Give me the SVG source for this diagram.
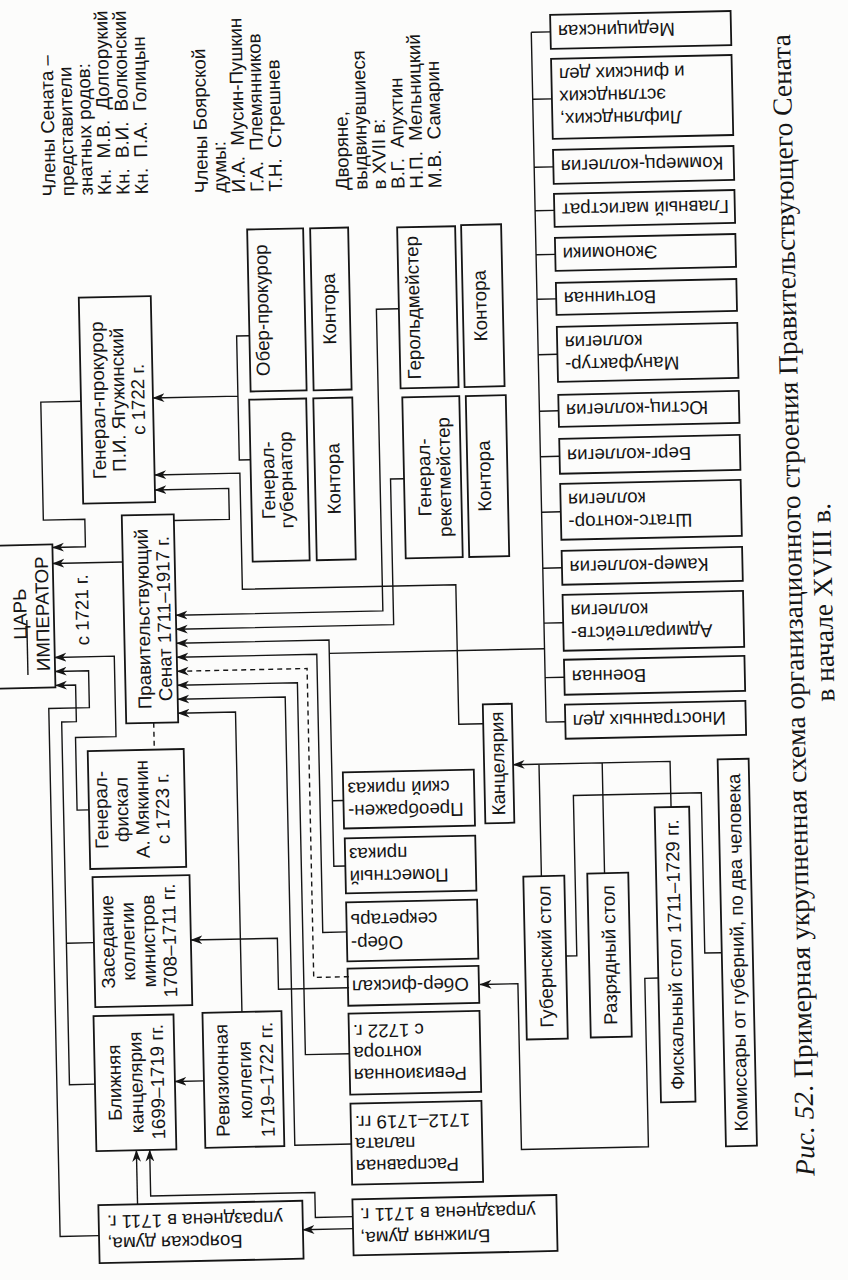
<svg xmlns="http://www.w3.org/2000/svg" width="848" height="1280" viewBox="0 0 848 1280">
<style>
.t{font-family:"Liberation Sans",Arial,sans-serif;font-size:18.7px;fill:#151515}
.m{text-anchor:middle}.e{text-anchor:end}.s{text-anchor:start}
.cap{font-family:"Liberation Serif","Times New Roman",serif;font-size:27.5px;fill:#151515;text-anchor:middle}
.b{fill:none;stroke:#151515;stroke-width:1.8}
.c{fill:none;stroke:#151515;stroke-width:1.4}
.ar{marker-end:url(#a)}
.d{stroke-dasharray:5 4}
</style>
<defs>
<marker id="a" viewBox="0 0 12 10" refX="11.5" refY="5" markerWidth="12" markerHeight="10" markerUnits="userSpaceOnUse" orient="auto"><path d="M12,5 L0,0.6 L3.5,5 L0,9.4 Z" fill="#151515"/></marker>
</defs>
<rect width="848" height="1280" fill="#fcfcfb"/>
<g transform="rotate(-1.23 424 640)">

<g id="notes">
<text class="t s" transform="translate(58.7,188.5) rotate(-90)" dy="0.35em">Члены Сената –</text>
<text class="t s" transform="translate(77.2,188.5) rotate(-90)" dy="0.35em">представители</text>
<text class="t s" transform="translate(95.7,188.5) rotate(-90)" dy="0.35em">знатных родов:</text>
<text class="t s" xml:space="preserve" transform="translate(114.2,188.5) rotate(-90)" dy="0.35em">Кн.  М.В.  Долгорукий</text>
<text class="t s" xml:space="preserve" transform="translate(132.7,188.5) rotate(-90)" dy="0.35em">Кн.  В.И.  Волконский</text>
<text class="t s" xml:space="preserve" transform="translate(151.2,188.5) rotate(-90)" dy="0.35em">Кн.  П.А.  Голицын</text>
<text class="t s" transform="translate(211.2,188.5) rotate(-90)" dy="0.35em">Члены Боярской</text>
<text class="t s" transform="translate(229.7,188.5) rotate(-90)" dy="0.35em">думы:</text>
<text class="t s" xml:space="preserve" transform="translate(248.2,188.5) rotate(-90)" dy="0.35em">И.А.  Мусин-Пушкин</text>
<text class="t s" xml:space="preserve" transform="translate(266.7,188.5) rotate(-90)" dy="0.35em">Г.А.  Племянников</text>
<text class="t s" xml:space="preserve" transform="translate(285.2,188.5) rotate(-90)" dy="0.35em">Т.Н.  Стрешнев</text>
<text class="t s" transform="translate(352.2,188.5) rotate(-90)" dy="0.35em">Дворяне,</text>
<text class="t s" transform="translate(370.7,188.5) rotate(-90)" dy="0.35em">выдвинувшиеся</text>
<text class="t s" transform="translate(389.2,188.5) rotate(-90)" dy="0.35em">в XVII в:</text>
<text class="t s" xml:space="preserve" transform="translate(407.7,188.5) rotate(-90)" dy="0.35em">В.Г.  Апухтин</text>
<text class="t s" xml:space="preserve" transform="translate(426.2,188.5) rotate(-90)" dy="0.35em">Н.П.  Мельницкий</text>
<text class="t s" xml:space="preserve" transform="translate(444.7,188.5) rotate(-90)" dy="0.35em">М.В.  Самарин</text>
</g>

<g id="connectors">
<path class="c ar" d="M86.2,394 H46 V512 H87.5 V539.5 H54.5"/>
<path class="c ar" d="M124.5,555.5 H54.5"/>
<path class="c ar" d="M85.4,802.6 H73.5 V730 H114 V649.5 H54.5"/>
<path class="c ar" d="M86.3,1228.5 H47.4 V700.4 H88 V663.5 H54.5"/>
<path class="c ar" d="M87.5,935.5 H60 M85.5,1077 H60 V714.2 H74.7 V677.5 H54.5"/>
<path class="c ar" d="M256,332 H243.2 V456 H254.4 M243.2,392.2 H158.2"/>
<path class="c ar" d="M481.4,725 H457 V585.4 H243.5 V469.2 H158.2"/>
<path class="c ar" d="M176.5,515.2 H232 V484.2 H158.2"/>
<path class="c ar" d="M406,308.3 H383.5 V610 H176.5"/>
<path class="c ar" d="M407.5,478.3 H394 V624 H176.5"/>
<path class="c ar" d="M544.3,651.3 H329 M340,798.7 H329 M340.2,864.2 H329 V638 H176.5"/>
<path class="c ar" d="M340.8,930.2 H316.5 V652 H176.5"/>
<path class="c ar d" d="M341.6,975 H306.5 V666 H176.5"/>
<path class="c ar" d="M341,1052 H296.5 V680 H176.5"/>
<path class="c ar" d="M341.2,1142.3 H284 V694 H176.5"/>
<path class="c ar" d="M234,1008 V708 H176.5"/>
<path class="c d" d="M152,717 V743.8"/>
<path class="c ar" d="M341.6,986 H271 V935 H184.5"/>
<path class="c ar" d="M651,983 H637.5 V1151.4 H510.5 V985.6 H472.6"/>
<path class="c ar" d="M536.3,878.6 V766.6 M599.5,877 V766.6 M667.4,812.4 V766.6 H510.4"/>
<path class="c" d="M559.2,959 H570 V798.6 H698 V959 H715"/>
<path class="c ar" d="M194.5,1076 H165.5"/>
<path class="c ar" d="M125.5,1198 V1144"/>
<path class="c ar" d="M340.4,1215 H303 V1190 H138.8 V1144"/>
<path class="c ar" d="M340.4,1227 H290.3"/>
<path class="c" d="M544.3,34.75 V724.75 M544.3,34.75 H563.5 M544.3,101.75 H563.5 M544.3,169.75 H563.5 M544.3,213.25 H563.5 M544.3,257.25 H563.5 M544.3,301.75 H563.5 M544.3,357.25 H563.5 M544.3,413.75 H563.5 M544.3,459.25 H563.5 M544.3,514.75 H563.5 M544.3,570.75 H563.5 M544.3,625.75 H563.5 M544.3,680.25 H563.5 M544.3,724.75 H563.5"/>
</g>

<g id="tsar">
<rect class="b" x="-20" y="536.5" width="74.5" height="143"/>
<text class="t m" transform="translate(20.5,605.5) rotate(-90)" dy="0.35em">ЦАРЬ</text>
<line class="c" x1="27.3" y1="611.5" x2="27.3" y2="666.5"/>
<text class="t m" transform="translate(43,605.5) rotate(-90)" dy="0.35em">ИМПЕРАТОР</text>
<text class="t m" transform="translate(82.6,602.6) rotate(-90)" dy="0.35em">с 1721 г.</text>
</g>

<g id="senate">
<rect class="b" x="124.5" y="509" width="52" height="208"/>
<text class="t m" transform="translate(143.5,613) rotate(-90)" dy="0.35em">Правительствующий</text>
<text class="t m" transform="translate(164.5,613) rotate(-90)" dy="0.35em">Сенат 1711–1917 г.</text>
</g>

<g id="gen-prokuror">
<rect class="b" x="86.2" y="290.4" width="72" height="206"/>
<text class="t m" transform="translate(103.2,393.4) rotate(-90)" dy="0.35em">Генерал-прокурор</text>
<text class="t m" transform="translate(123.2,393.4) rotate(-90)" dy="0.35em">П.И. Ягужинский</text>
<text class="t m" transform="translate(143.2,393.4) rotate(-90)" dy="0.35em">с 1722 г.</text>
</g>

<g id="ober-prokuror">
<rect class="b" x="256" y="225.8" width="56" height="162"/>
<text class="t m" transform="translate(269,306.8) rotate(-90)" dy="0.35em">Обер-прокурор</text>
</g>
<g id="kontora1">
<rect class="b" x="319" y="226" width="38" height="162"/>
<text class="t m" transform="translate(336,307) rotate(-90)" dy="0.35em">Контора</text>
</g>
<g id="gen-gubernator">
<rect class="b" x="254.4" y="396" width="57" height="162"/>
<text class="t m" transform="translate(271.4,477) rotate(-90)" dy="0.35em">Генерал-</text>
<text class="t m" transform="translate(289.4,477) rotate(-90)" dy="0.35em">губернатор</text>
</g>
<g id="kontora2">
<rect class="b" x="318.5" y="396" width="39" height="162"/>
<text class="t m" transform="translate(337,477) rotate(-90)" dy="0.35em">Контора</text>
</g>
<g id="gerold">
<rect class="b" x="406" y="227" width="58" height="161"/>
<text class="t m" transform="translate(420,307.5) rotate(-90)" dy="0.35em">Герольдмейстер</text>
</g>
<g id="kontora3">
<rect class="b" x="470" y="226" width="40" height="162"/>
<text class="t m" transform="translate(487,307) rotate(-90)" dy="0.35em">Контора</text>
</g>
<g id="gen-reket">
<rect class="b" x="407.5" y="397" width="57" height="161"/>
<text class="t m" transform="translate(427.5,477.5) rotate(-90)" dy="0.35em">Генерал-</text>
<text class="t m" transform="translate(447.5,477.5) rotate(-90)" dy="0.35em">рекетмейстер</text>
</g>
<g id="kontora4">
<rect class="b" x="471" y="397" width="40" height="161"/>
<text class="t m" transform="translate(487.5,477.5) rotate(-90)" dy="0.35em">Контора</text>
</g>

<g id="gen-fiskal">
<rect class="b" x="85.4" y="743.8" width="96" height="118"/>
<text class="t m" transform="translate(97.5,803) rotate(-90)" dy="0.35em">Генерал-</text>
<text class="t m" transform="translate(118,803) rotate(-90)" dy="0.35em">фискал</text>
<text class="t m" transform="translate(138.5,803) rotate(-90)" dy="0.35em">А. Мякинин</text>
<text class="t m" transform="translate(159,803) rotate(-90)" dy="0.35em">с 1723 г.</text>
</g>
<g id="zasedanie">
<rect class="b" x="87.5" y="870" width="97" height="130"/>
<text class="t m" transform="translate(101,935) rotate(-90)" dy="0.35em">Заседание</text>
<text class="t m" transform="translate(121.5,935) rotate(-90)" dy="0.35em">коллегии</text>
<text class="t m" transform="translate(142,935) rotate(-90)" dy="0.35em">министров</text>
<text class="t m" transform="translate(163,935) rotate(-90)" dy="0.35em">1708–1711 гг.</text>
</g>
<g id="blizh-kanc">
<rect class="b" x="85.5" y="1009" width="80" height="135"/>
<text class="t m" transform="translate(105,1076) rotate(-90)" dy="0.35em">Ближняя</text>
<text class="t m" transform="translate(126.5,1076) rotate(-90)" dy="0.35em">канцелярия</text>
<text class="t m" transform="translate(148,1076) rotate(-90)" dy="0.35em">1699–1719 гг.</text>
</g>
<g id="reviz-koll">
<rect class="b" x="194.5" y="1008" width="79" height="135"/>
<text class="t m" transform="translate(212.5,1076) rotate(-90)" dy="0.35em">Ревизионная</text>
<text class="t m" transform="translate(235.5,1076) rotate(-90)" dy="0.35em">коллегия</text>
<text class="t m" transform="translate(257.5,1076) rotate(-90)" dy="0.35em">1719–1722 гг.</text>
</g>
<g id="boyar-duma">
<rect class="b" x="86.3" y="1198" width="204" height="58"/>
<text class="t e" transform="translate(94.5,1215.2) rotate(180)" dy="0.35em">упразднена в 1711 г.</text>
<text class="t e" transform="translate(94.5,1237.2) rotate(180)" dy="0.35em">Боярская дума,</text>
</g>
<g id="blizh-duma">
<rect class="b" x="340.4" y="1197.7" width="204" height="56"/>
<text class="t e" transform="translate(347.4,1213.5) rotate(180)" dy="0.35em">упразднена в 1711 г.</text>
<text class="t e" transform="translate(347.4,1237) rotate(180)" dy="0.35em">Ближняя дума,</text>
</g>
<g id="raspravnaya">
<rect class="b" x="340.5" y="1102" width="131" height="81"/>
<text class="t e" transform="translate(344.5,1121) rotate(180)" dy="0.35em">1712–1719 гг.</text>
<text class="t e" transform="translate(344.5,1143) rotate(180)" dy="0.35em">палата</text>
<text class="t e" transform="translate(344.5,1165) rotate(180)" dy="0.35em">Расправная</text>
</g>
<g id="reviz-kontora">
<rect class="b" x="340.5" y="1012" width="131" height="81"/>
<text class="t e" transform="translate(344.5,1030) rotate(180)" dy="0.35em">с 1722 г.</text>
<text class="t e" transform="translate(344.5,1052) rotate(180)" dy="0.35em">контора</text>
<text class="t e" transform="translate(344.5,1074) rotate(180)" dy="0.35em">Ревизионная</text>
</g>
<g id="ober-fiskal">
<rect class="b" x="340.5" y="967" width="131" height="37"/>
<text class="t e" transform="translate(344.5,985.3) rotate(180)" dy="0.35em">Обер-фискал</text>
</g>
<g id="ober-sekretar">
<rect class="b" x="340.5" y="900.7" width="131" height="59"/>
<text class="t e" transform="translate(344.5,919) rotate(180)" dy="0.35em">секретарь</text>
<text class="t e" transform="translate(344.5,942) rotate(180)" dy="0.35em">Обер-</text>
</g>
<g id="pomestny">
<rect class="b" x="340.5" y="836.7" width="130.5" height="55"/>
<text class="t e" transform="translate(344.5,853) rotate(180)" dy="0.35em">приказ</text>
<text class="t e" transform="translate(344.5,875.5) rotate(180)" dy="0.35em">Поместный</text>
</g>
<g id="preobr">
<rect class="b" x="340" y="770.7" width="131" height="56"/>
<text class="t e" transform="translate(344.5,787.5) rotate(180)" dy="0.35em">ский приказ</text>
<text class="t e" transform="translate(344.5,810) rotate(180)" dy="0.35em">Преображен-</text>
</g>

<g id="kancelyaria">
<rect class="b" x="481.4" y="705.6" width="29" height="119"/>
<text class="t m" transform="translate(495,765) rotate(-90)" dy="0.35em">Канцелярия</text>
</g>
<g id="gubern-stol">
<rect class="b" x="518.2" y="878.6" width="41" height="163"/>
<text class="t m" transform="translate(538.5,959) rotate(-90)" dy="0.35em">Губернский стол</text>
</g>
<g id="razryad-stol">
<rect class="b" x="582.2" y="877" width="41" height="164"/>
<text class="t m" transform="translate(602.5,959) rotate(-90)" dy="0.35em">Разрядный стол</text>
</g>
<g id="fiskal-stol">
<rect class="b" x="651" y="812.4" width="34.5" height="295"/>
<text class="t m" transform="translate(668,960) rotate(-90)" dy="0.35em">Фискальный стол 1711–1729 гг.</text>
</g>
<g id="komissary">
<rect class="b" x="715" y="765.7" width="31" height="387"/>
<text class="t m" transform="translate(730.5,959.2) rotate(-90)" dy="0.35em">Комиссары от губерний, по два человека</text>
</g>

<g id="c-medic"><rect class="b" x="563.5" y="17.75" width="180.5" height="34"/>
<text class="t e" transform="translate(571,34.75) rotate(180)" dy="0.35em">Медицинская</text></g>
<g id="c-lifl"><rect class="b" x="563.5" y="61.75" width="180.5" height="80"/>
<text class="t e" transform="translate(571,77.75) rotate(180)" dy="0.35em">и финских дел</text>
<text class="t e" transform="translate(571,100.25) rotate(180)" dy="0.35em">эстляндских</text>
<text class="t e" transform="translate(571,122.75) rotate(180)" dy="0.35em">Лифляндских,</text></g>
<g id="c-kommerc"><rect class="b" x="563.5" y="152.75" width="180.5" height="34"/>
<text class="t e" transform="translate(571,169.75) rotate(180)" dy="0.35em">Коммерц-коллегия</text></g>
<g id="c-magistrat"><rect class="b" x="563.5" y="196.75" width="180.5" height="33"/>
<text class="t e" transform="translate(571,213.25) rotate(180)" dy="0.35em">Главный магистрат</text></g>
<g id="c-ekonom"><rect class="b" x="563.5" y="240.75" width="180.5" height="33"/>
<text class="t e" transform="translate(571,257.25) rotate(180)" dy="0.35em">Экономики</text></g>
<g id="c-votch"><rect class="b" x="563.5" y="285.75" width="180.5" height="32"/>
<text class="t e" transform="translate(571,301.75) rotate(180)" dy="0.35em">Вотчинная</text></g>
<g id="c-manuf"><rect class="b" x="563.5" y="329.75" width="180.5" height="55"/>
<text class="t e" transform="translate(571,346) rotate(180)" dy="0.35em">коллегия</text>
<text class="t e" transform="translate(571,368.5) rotate(180)" dy="0.35em">Мануфактур-</text></g>
<g id="c-yustic"><rect class="b" x="563.5" y="397.75" width="180.5" height="32"/>
<text class="t e" transform="translate(571,413.75) rotate(180)" dy="0.35em">Юстиц-коллегия</text></g>
<g id="c-berg"><rect class="b" x="563.5" y="441.75" width="180.5" height="35"/>
<text class="t e" transform="translate(571,459.25) rotate(180)" dy="0.35em">Берг-коллегия</text></g>
<g id="c-shtats"><rect class="b" x="563.5" y="486.75" width="180.5" height="56"/>
<text class="t e" transform="translate(571,503.5) rotate(180)" dy="0.35em">коллегия</text>
<text class="t e" transform="translate(571,526) rotate(180)" dy="0.35em">Штатс-контор-</text></g>
<g id="c-kamer"><rect class="b" x="563.5" y="553.75" width="180.5" height="34"/>
<text class="t e" transform="translate(571,570.75) rotate(180)" dy="0.35em">Камер-коллегия</text></g>
<g id="c-admir"><rect class="b" x="563.5" y="597.75" width="180.5" height="56"/>
<text class="t e" transform="translate(571,614.5) rotate(180)" dy="0.35em">коллегия</text>
<text class="t e" transform="translate(571,637) rotate(180)" dy="0.35em">Адмиралтейств-</text></g>
<g id="c-voen"><rect class="b" x="563.5" y="662.75" width="180.5" height="35"/>
<text class="t e" transform="translate(571,680.25) rotate(180)" dy="0.35em">Военная</text></g>
<g id="c-inostr"><rect class="b" x="563.5" y="707.75" width="180.5" height="34"/>
<text class="t e" transform="translate(571,724.75) rotate(180)" dy="0.35em">Иностранных дел</text></g>

<g id="caption">
<text class="cap" transform="translate(803,613) rotate(-90)"><tspan font-style="italic">Рис. 52</tspan>. Примерная укрупненная схема организационного строения Правительствующего Сената</text>
<text class="cap" transform="translate(833,611) rotate(-90)">в начале XVIII в.</text>
</g>
</g>
</svg>
